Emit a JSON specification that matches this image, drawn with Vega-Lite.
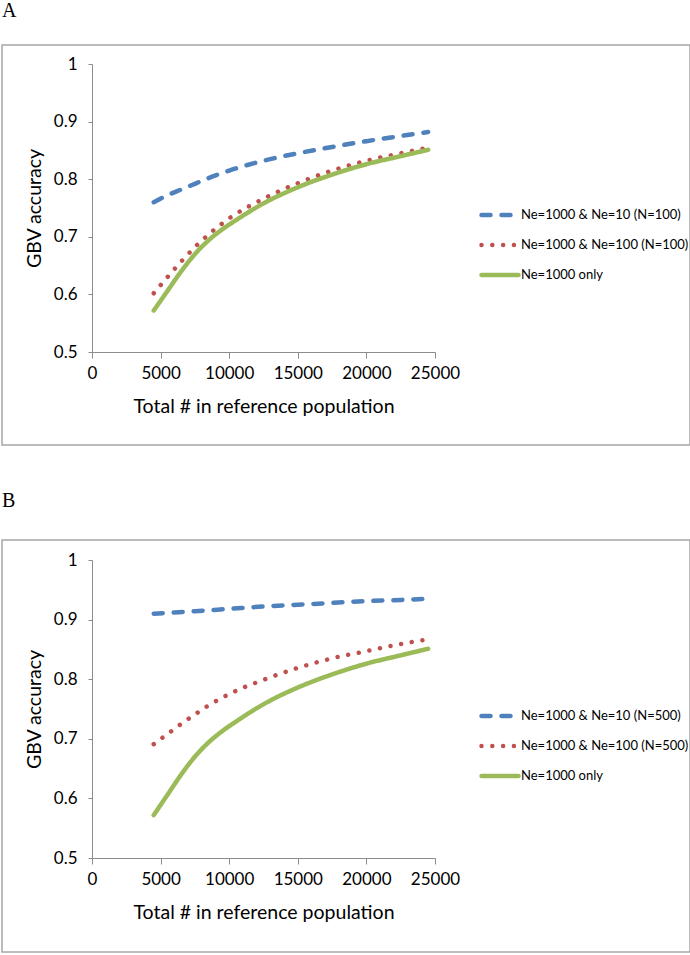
{
  "$schema": "https://vega.github.io/schema/vega-lite/v6.json",
  "padding": {"left": 1, "top": 0, "right": 0, "bottom": 0},
  "background": "white",
  "config": {
    "view": {"stroke": "#a6a6a6", "strokeWidth": 1.5},
    "font": "Lato",
    "title": {"font": "Liberation Serif", "fontSize": 20, "fontWeight": "normal", "anchor": "start", "frame": "group", "color": "black"},
    "axis": {"grid": false, "domainColor": "#8c8c8c", "tickColor": "#8c8c8c", "domainWidth": 1, "tickWidth": 1, "labelFont": "Lato", "labelFontSize": 17, "labelColor": "black", "titleFont": "Lato", "titleFontSize": 19.5, "titleFontWeight": "normal", "titleColor": "black"},
    "legend": {"orient": "none", "direction": "vertical", "title": null, "labelFont": "Lato", "labelFontSize": 13, "labelColor": "black", "labelLimit": 0, "symbolType": "stroke", "symbolSize": 1369, "symbolStrokeWidth": 4.5, "labelOffset": 0, "rowPadding": 0}
  },
  "datasets": {
    "d": [
      {"p": "A", "s": "Ne=1000 & Ne=10 (N=100)", "x": 4500, "y": 0.760},
      {"p": "A", "s": "Ne=1000 & Ne=10 (N=100)", "x": 5500, "y": 0.772},
      {"p": "A", "s": "Ne=1000 & Ne=10 (N=100)", "x": 6500, "y": 0.782},
      {"p": "A", "s": "Ne=1000 & Ne=10 (N=100)", "x": 7500, "y": 0.792},
      {"p": "A", "s": "Ne=1000 & Ne=10 (N=100)", "x": 8500, "y": 0.802},
      {"p": "A", "s": "Ne=1000 & Ne=10 (N=100)", "x": 10000, "y": 0.815},
      {"p": "A", "s": "Ne=1000 & Ne=10 (N=100)", "x": 12500, "y": 0.832},
      {"p": "A", "s": "Ne=1000 & Ne=10 (N=100)", "x": 15000, "y": 0.845},
      {"p": "A", "s": "Ne=1000 & Ne=10 (N=100)", "x": 17500, "y": 0.856},
      {"p": "A", "s": "Ne=1000 & Ne=10 (N=100)", "x": 20000, "y": 0.866},
      {"p": "A", "s": "Ne=1000 & Ne=10 (N=100)", "x": 22500, "y": 0.875},
      {"p": "A", "s": "Ne=1000 & Ne=10 (N=100)", "x": 24500, "y": 0.882},
      {"p": "A", "s": "Ne=1000 & Ne=100 (N=100)", "x": 4500, "y": 0.602},
      {"p": "A", "s": "Ne=1000 & Ne=100 (N=100)", "x": 5500, "y": 0.630},
      {"p": "A", "s": "Ne=1000 & Ne=100 (N=100)", "x": 6500, "y": 0.657},
      {"p": "A", "s": "Ne=1000 & Ne=100 (N=100)", "x": 7500, "y": 0.682},
      {"p": "A", "s": "Ne=1000 & Ne=100 (N=100)", "x": 8500, "y": 0.704},
      {"p": "A", "s": "Ne=1000 & Ne=100 (N=100)", "x": 10000, "y": 0.732},
      {"p": "A", "s": "Ne=1000 & Ne=100 (N=100)", "x": 12500, "y": 0.766},
      {"p": "A", "s": "Ne=1000 & Ne=100 (N=100)", "x": 15000, "y": 0.793},
      {"p": "A", "s": "Ne=1000 & Ne=100 (N=100)", "x": 17500, "y": 0.815},
      {"p": "A", "s": "Ne=1000 & Ne=100 (N=100)", "x": 20000, "y": 0.832},
      {"p": "A", "s": "Ne=1000 & Ne=100 (N=100)", "x": 22500, "y": 0.845},
      {"p": "A", "s": "Ne=1000 & Ne=100 (N=100)", "x": 24500, "y": 0.855},
      {"p": "A", "s": "Ne=1000 only", "x": 4500, "y": 0.572},
      {"p": "A", "s": "Ne=1000 only", "x": 5500, "y": 0.606},
      {"p": "A", "s": "Ne=1000 only", "x": 6500, "y": 0.640},
      {"p": "A", "s": "Ne=1000 only", "x": 7500, "y": 0.670},
      {"p": "A", "s": "Ne=1000 only", "x": 8500, "y": 0.694},
      {"p": "A", "s": "Ne=1000 only", "x": 9500, "y": 0.713},
      {"p": "A", "s": "Ne=1000 only", "x": 10500, "y": 0.729},
      {"p": "A", "s": "Ne=1000 only", "x": 12500, "y": 0.758},
      {"p": "A", "s": "Ne=1000 only", "x": 15000, "y": 0.786},
      {"p": "A", "s": "Ne=1000 only", "x": 17500, "y": 0.808},
      {"p": "A", "s": "Ne=1000 only", "x": 20000, "y": 0.826},
      {"p": "A", "s": "Ne=1000 only", "x": 22500, "y": 0.840},
      {"p": "A", "s": "Ne=1000 only", "x": 24500, "y": 0.851},
      {"p": "B", "s": "Ne=1000 & Ne=10 (N=500)", "x": 4500, "y": 0.910},
      {"p": "B", "s": "Ne=1000 & Ne=10 (N=500)", "x": 7500, "y": 0.914},
      {"p": "B", "s": "Ne=1000 & Ne=10 (N=500)", "x": 10000, "y": 0.918},
      {"p": "B", "s": "Ne=1000 & Ne=10 (N=500)", "x": 12500, "y": 0.922},
      {"p": "B", "s": "Ne=1000 & Ne=10 (N=500)", "x": 15000, "y": 0.925},
      {"p": "B", "s": "Ne=1000 & Ne=10 (N=500)", "x": 17500, "y": 0.928},
      {"p": "B", "s": "Ne=1000 & Ne=10 (N=500)", "x": 20000, "y": 0.931},
      {"p": "B", "s": "Ne=1000 & Ne=10 (N=500)", "x": 22500, "y": 0.933},
      {"p": "B", "s": "Ne=1000 & Ne=10 (N=500)", "x": 24500, "y": 0.935},
      {"p": "B", "s": "Ne=1000 & Ne=100 (N=500)", "x": 4500, "y": 0.691},
      {"p": "B", "s": "Ne=1000 & Ne=100 (N=500)", "x": 5500, "y": 0.708},
      {"p": "B", "s": "Ne=1000 & Ne=100 (N=500)", "x": 6500, "y": 0.725},
      {"p": "B", "s": "Ne=1000 & Ne=100 (N=500)", "x": 7500, "y": 0.741},
      {"p": "B", "s": "Ne=1000 & Ne=100 (N=500)", "x": 8500, "y": 0.756},
      {"p": "B", "s": "Ne=1000 & Ne=100 (N=500)", "x": 10000, "y": 0.775},
      {"p": "B", "s": "Ne=1000 & Ne=100 (N=500)", "x": 12500, "y": 0.799},
      {"p": "B", "s": "Ne=1000 & Ne=100 (N=500)", "x": 15000, "y": 0.819},
      {"p": "B", "s": "Ne=1000 & Ne=100 (N=500)", "x": 17500, "y": 0.835},
      {"p": "B", "s": "Ne=1000 & Ne=100 (N=500)", "x": 20000, "y": 0.847},
      {"p": "B", "s": "Ne=1000 & Ne=100 (N=500)", "x": 22500, "y": 0.859},
      {"p": "B", "s": "Ne=1000 & Ne=100 (N=500)", "x": 24500, "y": 0.867},
      {"p": "B", "s": "Ne=1000 only", "x": 4500, "y": 0.572},
      {"p": "B", "s": "Ne=1000 only", "x": 5500, "y": 0.606},
      {"p": "B", "s": "Ne=1000 only", "x": 6500, "y": 0.640},
      {"p": "B", "s": "Ne=1000 only", "x": 7500, "y": 0.670},
      {"p": "B", "s": "Ne=1000 only", "x": 8500, "y": 0.694},
      {"p": "B", "s": "Ne=1000 only", "x": 9500, "y": 0.713},
      {"p": "B", "s": "Ne=1000 only", "x": 10500, "y": 0.729},
      {"p": "B", "s": "Ne=1000 only", "x": 12500, "y": 0.758},
      {"p": "B", "s": "Ne=1000 only", "x": 15000, "y": 0.786},
      {"p": "B", "s": "Ne=1000 only", "x": 17500, "y": 0.808},
      {"p": "B", "s": "Ne=1000 only", "x": 20000, "y": 0.826},
      {"p": "B", "s": "Ne=1000 only", "x": 22500, "y": 0.840},
      {"p": "B", "s": "Ne=1000 only", "x": 24500, "y": 0.851}
    ]
  },
  "spacing": 44,
  "resolve": {
    "scale": {"color": "independent", "strokeDash": "independent", "x": "independent", "y": "independent"},
    "legend": {"color": "independent", "strokeDash": "independent"}
  },
  "vconcat": [
    {
      "title": {"text": "A", "offset": 24},
      "width": 688,
      "height": 400,
      "data": {"name": "d"},
      "transform": [{"filter": "datum.p === 'A'"}],
      "mark": {"type": "line", "interpolate": "monotone", "strokeCap": "round", "strokeWidth": 4.5, "clip": false},
      "encoding": {
        "x": {"field": "x", "type": "quantitative",
          "scale": {"domain": [0, 25000], "range": [90, 433], "nice": false, "zero": false},
          "axis": {"values": [0, 5000, 10000, 15000, 20000, 25000], "format": "d", "offset": -93, "tickSize": 6, "labelPadding": 7, "labelFlush": false, "title": "Total # in reference population", "titlePadding": 16}},
        "y": {"field": "y", "type": "quantitative",
          "scale": {"domain": [0.5, 1], "range": [307, 19], "nice": false, "zero": false},
          "axis": {"values": [0.5, 0.6, 0.7, 0.8, 0.9, 1], "format": "~g", "offset": -90, "tickSize": 4, "labelPadding": 11, "labelFlush": false, "title": "GBV accuracy", "titlePadding": 9}},
        "color": {"field": "s", "type": "nominal",
          "scale": {"domain": ["Ne=1000 & Ne=10 (N=100)", "Ne=1000 & Ne=100 (N=100)", "Ne=1000 only"], "range": ["#4F81BD", "#C0504D", "#9BBB59"]},
          "legend": {"legendX": 477, "legendY": 149, "encode": {"symbols": {"update": {"strokeCap": {"value": "round"}}}}}},
        "strokeDash": {"field": "s", "type": "nominal",
          "scale": {"domain": ["Ne=1000 & Ne=10 (N=100)", "Ne=1000 & Ne=100 (N=100)", "Ne=1000 only"], "range": [[9, 11], [0.01, 10.8], [1, 0]]},
          "legend": {"legendX": 477, "legendY": 149, "encode": {"symbols": {"update": {"strokeCap": {"value": "round"}}}}}}
      }
    },
    {
      "title": {"text": "B", "offset": 29},
      "width": 688,
      "height": 412,
      "data": {"name": "d"},
      "transform": [{"filter": "datum.p === 'B'"}],
      "mark": {"type": "line", "interpolate": "monotone", "strokeCap": "round", "strokeWidth": 4.5, "clip": false},
      "encoding": {
        "x": {"field": "x", "type": "quantitative",
          "scale": {"domain": [0, 25000], "range": [90, 433], "nice": false, "zero": false},
          "axis": {"values": [0, 5000, 10000, 15000, 20000, 25000], "format": "d", "offset": -94, "tickSize": 6, "labelPadding": 7, "labelFlush": false, "title": "Total # in reference population", "titlePadding": 16}},
        "y": {"field": "y", "type": "quantitative",
          "scale": {"domain": [0.5, 1], "range": [318, 20], "nice": false, "zero": false},
          "axis": {"values": [0.5, 0.6, 0.7, 0.8, 0.9, 1], "format": "~g", "offset": -90, "tickSize": 4, "labelPadding": 11, "labelFlush": false, "title": "GBV accuracy", "titlePadding": 9}},
        "color": {"field": "s", "type": "nominal",
          "scale": {"domain": ["Ne=1000 & Ne=10 (N=500)", "Ne=1000 & Ne=100 (N=500)", "Ne=1000 only"], "range": ["#4F81BD", "#C0504D", "#9BBB59"]},
          "legend": {"legendX": 477, "legendY": 155, "encode": {"symbols": {"update": {"strokeCap": {"value": "round"}}}}}},
        "strokeDash": {"field": "s", "type": "nominal",
          "scale": {"domain": ["Ne=1000 & Ne=10 (N=500)", "Ne=1000 & Ne=100 (N=500)", "Ne=1000 only"], "range": [[9, 11], [0.01, 10.8], [1, 0]]},
          "legend": {"legendX": 477, "legendY": 155, "encode": {"symbols": {"update": {"strokeCap": {"value": "round"}}}}}}
      }
    }
  ]
}
